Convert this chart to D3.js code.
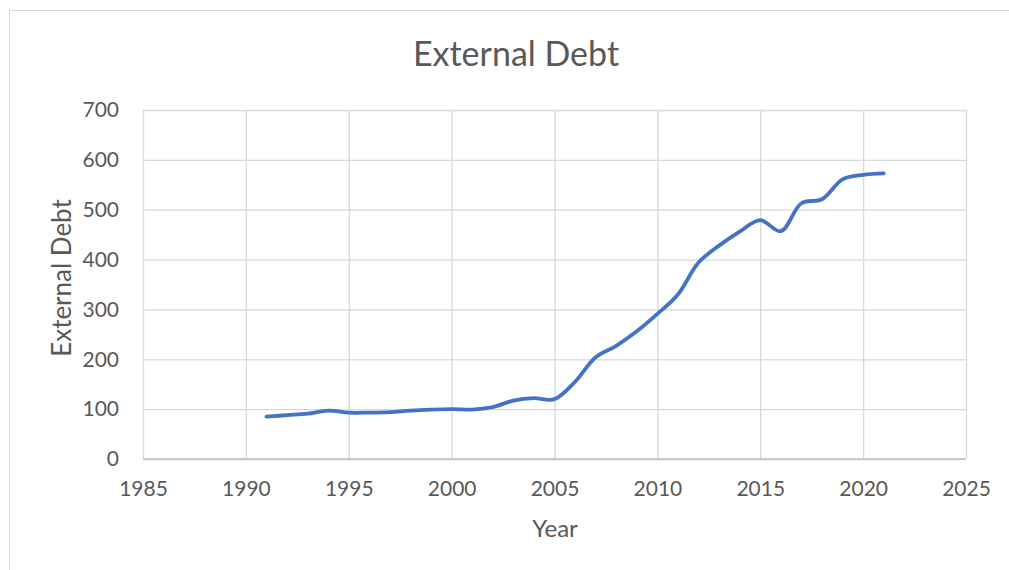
<!DOCTYPE html>
<html>
<head>
<meta charset="utf-8">
<script src="https://cdn.jsdelivr.net/npm/d3@7"></script>
<style>
  html, body { margin: 0; padding: 0; background: #fff; }
  svg { display: block; font-family: Lato, "Open Sans", sans-serif; }
</style>
</head>
<body>
<svg id="chart" width="1009" height="570"></svg>
<script>
// External debt by year
const years = [1991, 1992, 1993, 1994, 1995, 1996, 1997, 1998, 1999, 2000,
               2001, 2002, 2003, 2004, 2005, 2006, 2007, 2008, 2009, 2010,
               2011, 2012, 2013, 2014, 2015, 2016, 2017, 2018, 2019, 2020, 2021];
const debt = [85, 88, 91, 97, 93, 93, 94, 97, 99, 100,
              99, 104, 117, 122, 120, 155, 204, 227, 256, 291,
              330, 394, 428, 456, 479, 457, 513, 521, 561, 570, 573];
const xTicks = [1985, 1990, 1995, 2000, 2005, 2010, 2015, 2020, 2025];
const yTicks = [0, 100, 200, 300, 400, 500, 600, 700];

const svg = d3.select("#chart");
const textColor = "#595959";
const gridColor = "#d9d9d9";

// chart area frame
svg.append("rect")
  .attr("x", 9.5).attr("y", 10.5)
  .attr("width", 1040).attr("height", 600)
  .attr("fill", "#fff").attr("stroke", gridColor).attr("stroke-width", 1);

const plot = { left: 143, right: 966, top: 110, bottom: 459 };

const x = d3.scaleLinear().domain([1985, 2025]).range([plot.left, plot.right]);
const y = d3.scaleLinear().domain([0, 700]).range([plot.bottom, plot.top]);

// horizontal gridlines
svg.append("g")
  .attr("transform", `translate(${plot.left},0)`)
  .call(d3.axisLeft(y).tickValues(yTicks).tickSize(-(plot.right - plot.left)).tickFormat(""))
  .call(g => g.select(".domain").remove())
  .call(g => g.selectAll("line").attr("stroke", gridColor).attr("stroke-width", 1.3));

// vertical gridlines
svg.append("g")
  .attr("transform", `translate(0,${plot.bottom})`)
  .call(d3.axisBottom(x).tickValues(xTicks).tickSize(-(plot.bottom - plot.top)).tickFormat(""))
  .call(g => g.select(".domain").remove())
  .call(g => g.selectAll("line").attr("stroke", gridColor).attr("stroke-width", 1.3));

// horizontal axis line
svg.append("line")
  .attr("x1", plot.left).attr("x2", plot.right)
  .attr("y1", y(0)).attr("y2", y(0))
  .attr("stroke", "#bfbfbf").attr("stroke-width", 1.5);

// y tick labels
svg.append("g")
  .attr("transform", `translate(${plot.left},0)`)
  .call(d3.axisLeft(y).tickValues(yTicks).tickSize(0).tickPadding(24))
  .call(g => g.select(".domain").remove())
  .call(g => g.selectAll("text")
    .attr("fill", textColor).attr("font-size", 21)
    .attr("font-family", "Lato, sans-serif"));

// x tick labels
svg.append("g")
  .attr("transform", `translate(0,${plot.bottom})`)
  .call(d3.axisBottom(x).tickValues(xTicks).tickSize(0).tickPadding(22).tickFormat(d3.format("d")))
  .call(g => g.select(".domain").remove())
  .call(g => g.selectAll("text")
    .attr("fill", textColor).attr("font-size", 21)
    .attr("font-family", "Lato, sans-serif"));

// data line
const line = d3.line()
  .x((d, i) => x(years[i]))
  .y(d => y(d))
  .curve(d3.curveCatmullRom.alpha(0.5));

svg.append("path")
  .datum(debt)
  .attr("d", line)
  .attr("fill", "none")
  .attr("stroke", "#4472c4")
  .attr("stroke-width", 3.8)
  .attr("stroke-linecap", "round")
  .attr("stroke-linejoin", "round");

// title
svg.append("text")
  .attr("x", 516).attr("y", 66)
  .attr("text-anchor", "middle")
  .attr("fill", textColor)
  .attr("font-size", 34)
  .attr("font-weight", 400)
  .text("External Debt");

// axis titles
svg.append("text")
  .attr("transform", `translate(71,278) rotate(-90)`)
  .attr("text-anchor", "middle")
  .attr("fill", textColor)
  .attr("font-size", 26)
  .text("External Debt");

svg.append("text")
  .attr("x", 555).attr("y", 537)
  .attr("text-anchor", "middle")
  .attr("fill", textColor)
  .attr("font-size", 24)
  .text("Year");
</script>
</body>
</html>
